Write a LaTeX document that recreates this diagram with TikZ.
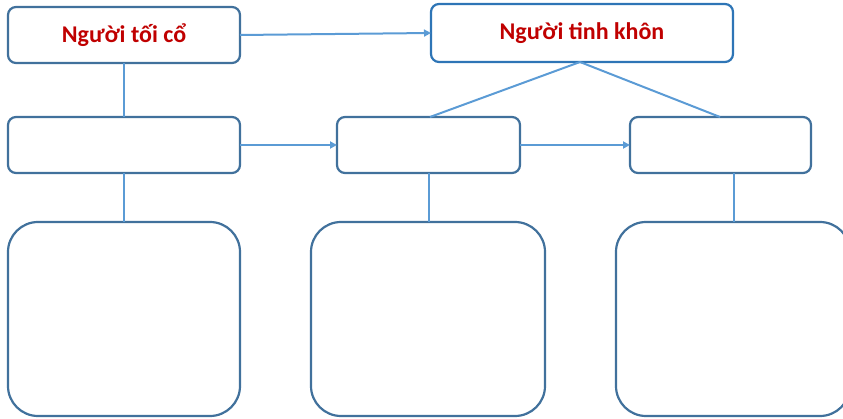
\documentclass[tikz,border=0pt]{standalone}
\usepackage{fontspec}
\setmainfont{Carlito}
\usetikzlibrary{arrows.meta}
\definecolor{boxblue}{HTML}{41719C}
\definecolor{topblue}{HTML}{2E75B6}
\definecolor{linkblue}{HTML}{5B9BD5}
\definecolor{txtred}{HTML}{C00000}
\begin{document}
\begin{tikzpicture}[x=1pt,y=-1pt,
  box/.style={draw=boxblue,line width=2.2pt,rounded corners=8pt,fill=white,inner sep=0pt,outer sep=0pt},
  bigbox/.style={draw=boxblue,line width=2.2pt,rounded corners=30pt,fill=white,inner sep=0pt,outer sep=0pt},
  lbl/.style={text=txtred,font=\bfseries\fontsize{24}{28}\selectfont},
  link/.style={draw=linkblue,line width=2pt},
  arr/.style={link,-{Triangle[length=7pt,width=7pt]}}]
\useasboundingbox (0,0) rectangle (843,419);
\node[box,minimum width=232pt,minimum height=56pt,lbl] (A) at (124,35) {Người tối cổ};
\node[box,draw=topblue,minimum width=302pt,minimum height=58pt,lbl] (B) at (582,33) {Người tinh khôn};
\node[box,minimum width=232pt,minimum height=56pt] (C1) at (124,145) {};
\node[box,minimum width=183pt,minimum height=56pt] (C2) at (428.5,145) {};
\node[box,minimum width=181pt,minimum height=56pt] (C3) at (720.5,145) {};
\node[bigbox,minimum width=232pt,minimum height=194pt] (D1) at (124,319) {};
\node[bigbox,minimum width=234pt,minimum height=194pt] (D2) at (428,319) {};
\node[bigbox,minimum width=234pt,minimum height=194pt] (D3) at (733,319) {};
\coordinate (Bs) at (580,62);
\draw[arr] (A.east) -- (B.west);
\draw[link] (A.south) -- (C1.north);
\draw[arr] (C1.east) -- (C2.west);
\draw[arr] (C2.east) -- (C3.west);
\draw[link] (Bs) -- (430,117);
\draw[link] (Bs) -- (720,117);
\draw[link] (C1.south) -- (D1.north);
\draw[link] (C2.south) -- (C2.south |- D2.north);
\draw[link] (734,173) -- (734,222);
\end{tikzpicture}
\end{document}
